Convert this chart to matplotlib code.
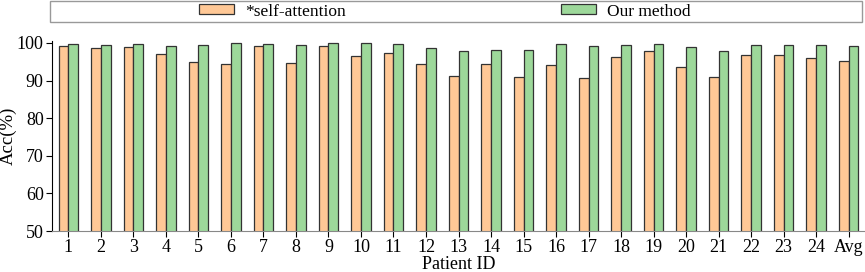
import numpy as np
import matplotlib.pyplot as plt
from matplotlib.patches import Rectangle

plt.rcParams['font.family'] = ['Liberation Serif', 'DejaVu Serif']

# per-patient accuracy (%)
patients = [str(i) for i in range(1, 25)] + ['Avg']
self_attention = [99.1, 98.7, 99.0, 97.1, 94.9, 94.5, 99.1, 94.7, 99.3, 96.6, 97.2, 94.4,
                  91.3, 94.5, 90.8, 94.0, 90.6, 96.2, 97.8, 93.7, 91.0, 96.9, 96.8, 96.1, 95.3]
our_method = [99.8, 99.5, 99.7, 99.3, 99.5, 99.9, 99.7, 99.5, 99.9, 99.9, 99.8, 98.6,
              97.9, 98.1, 98.2, 99.6, 99.3, 99.5, 99.7, 98.9, 97.9, 99.4, 99.5, 99.5, 99.3]

x = np.arange(len(patients))
w = 0.3

fig = plt.figure(figsize=(8.65, 2.72), dpi=100)
ax = fig.add_axes([52/865, 1 - 231/272, 813/865, 190/272])

ax.bar(x - w/2, self_attention, w, color='#FFC896', edgecolor='#333333', linewidth=0.9,
       label='*self-attention')
ax.bar(x + w/2, our_method, w, color='#9DD89A', edgecolor='#333333', linewidth=0.9,
       label='Our method')

ax.set_xlim(-0.5, 24.5)
ax.set_ylim(50, 100.5)
ax.set_yticks([50, 60, 70, 80, 90, 100])
ax.set_xticks(x)
ax.set_xticklabels(patients)
ax.tick_params(labelsize=13, length=4, pad=2)
ax.set_xlabel('Patient ID', fontsize=13, labelpad=0)
ax.set_ylabel('Acc(%)', fontsize=13.5)
ax.yaxis.set_label_coords(-35/813, 0.5)
ax.spines['top'].set_visible(False)
ax.spines['right'].set_visible(False)
ax.spines['bottom'].set_color('#888888')

# legend frame spanning the top
fig.patches.append(Rectangle((50/865, 1 - 22/272), 812/865, 21/272, transform=fig.transFigure,
                             facecolor='white', edgecolor='#999999', linewidth=1.0))
fig.legend(loc='center', bbox_to_anchor=(445/865, 1 - 11.5/272), ncol=2, fontsize=12.5,
           frameon=False, columnspacing=12.4, handlelength=2.0, handleheight=0.5,
           handletextpad=0.65, borderpad=0)

fig.savefig('out.png', dpi=100)
